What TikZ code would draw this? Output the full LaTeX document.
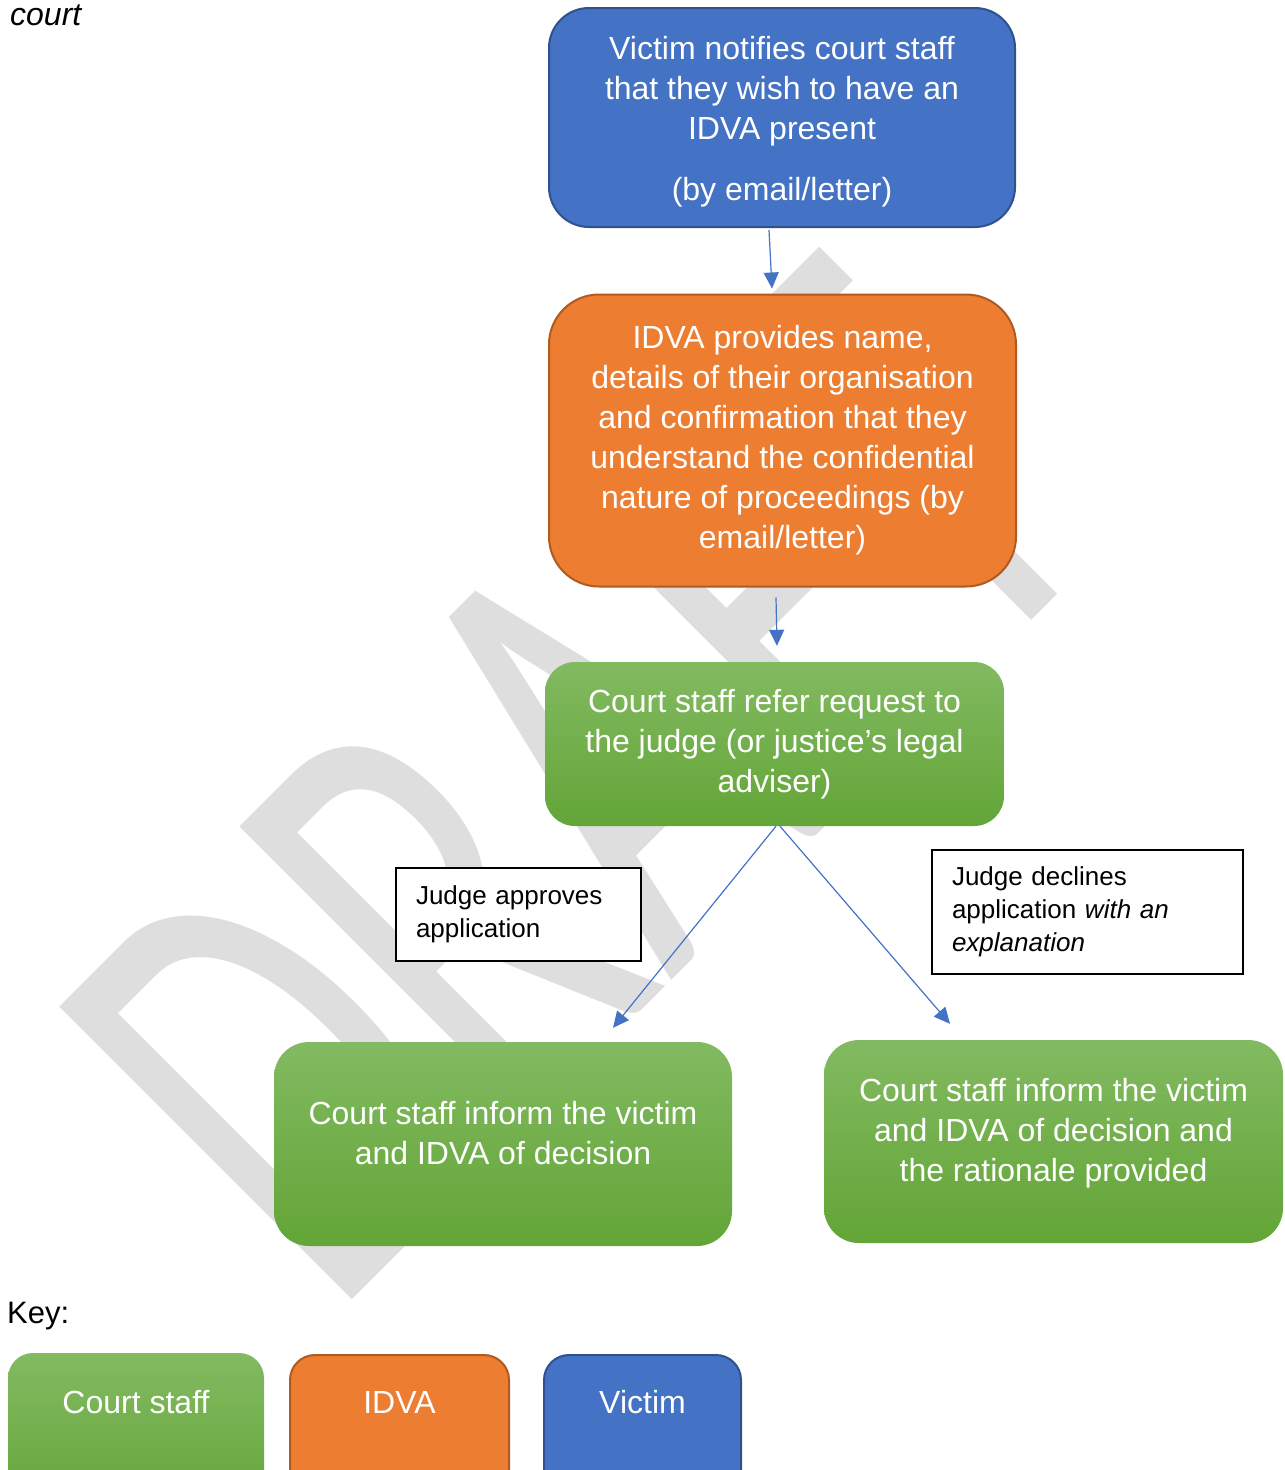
\documentclass[tikz,border=0pt]{standalone}
\usepackage{fontspec}
\setmainfont{Liberation Sans}
\newfontfamily\wmfont[FakeStretch=0.64]{Carlito}
\usetikzlibrary{arrows.meta}
\definecolor{vblue}{HTML}{4472C4}
\definecolor{vblueline}{HTML}{2F528F}
\definecolor{iorange}{HTML}{ED7D31}
\definecolor{iorangeline}{HTML}{AE5A21}
\definecolor{gtop}{HTML}{82BA61}
\definecolor{gbot}{HTML}{63A537}
\definecolor{wmgray}{HTML}{DEDEDE}
\tikzset{
  boxtext/.style={text=white, align=center, font=\fontsize{32}{40}\selectfont, inner sep=0pt},
  bluebox/.style={rectangle, fill=vblue, draw=vblueline, line width=2pt, inner sep=0pt},
  orangebox/.style={rectangle, fill=iorange, draw=iorangeline, line width=2pt, inner sep=0pt},
  greenbox/.style={rectangle, top color=gtop, bottom color=gbot, draw=none, inner sep=0pt},
  labelbox/.style={rectangle, draw=black, line width=1.5pt, fill=white, align=left,
    font=\fontsize{26}{33}\selectfont, inner xsep=20pt, inner ysep=0pt, anchor=center},
  arr/.style={draw=vblue, line width=1.2pt, -{Triangle[length=16pt,width=15pt]}},
}
\begin{document}
\begin{tikzpicture}[x=1pt,y=-1pt]
\clip (0,0) rectangle (1285,1470);
\fill[white] (0,0) rectangle (1285,1470);
% watermark
\node[anchor=base west, rotate=45, inner sep=0pt, text=wmgray,
  font=\wmfont\fontsize{645}{645}\selectfont] (wm) at (332,1320) {DRAFT};

% top-left fragment
\node[anchor=base west, inner sep=0pt, font=\fontsize{32}{38}\selectfont\itshape] (courtword) at (10,25) {court};

% flow boxes
\node[bluebox, rounded corners=40pt, minimum width=466pt, minimum height=219pt] (victim) at (782,117.5) {};
\node[boxtext] (victimtext) at (782,121.5)
  {Victim notifies court staff\\that they wish to have an\\IDVA present\\[21pt](by email/letter)};
\node[orangebox, rounded corners=50pt, minimum width=467pt, minimum height=292pt, boxtext] (idva) at (782.5,440.5)
  {IDVA provides name,\\details of their organisation\\and confirmation that they\\understand the confidential\\nature of proceedings (by\\email/letter)};
\node[greenbox, rounded corners=30pt, minimum width=459pt, minimum height=164pt, boxtext] (refer) at (774.5,744)
  {Court staff refer request to\\the judge (or justice’s legal\\adviser)};
\node[greenbox, rounded corners=35pt, minimum width=458pt, minimum height=204pt] (inform1) at (503,1144) {};
\node[boxtext] (inform1text) at (503,1133) {Court staff inform the victim\\and IDVA of decision};
\node[greenbox, rounded corners=35pt, minimum width=459pt, minimum height=203pt] (inform2) at (1053.5,1141.5) {};
\node[boxtext] (inform2text) at (1053.5,1133) {Court staff inform the victim\\and IDVA of decision and\\the rationale provided};

% decision labels
\node[labelbox, minimum width=245pt, minimum height=93pt, text width=205pt] (approve) at (518.5,914.5)
  {Judge approves\\application};
\node[labelbox, minimum width=311pt, minimum height=124pt, text width=271pt] (decline) at (1087.5,912)
  {Judge declines\\application \textit{with an}\\\textit{explanation}};

% connectors
\draw[arr] ([xshift=-13pt,yshift=-2pt]victim.south) -- ([xshift=-10.5pt,yshift=5pt]idva.north);
\draw[arr] ([xshift=-6.5pt,yshift=-10pt]idva.south) -- ([xshift=2.5pt,yshift=16pt]refer.north);
\draw[arr] ([xshift=1.5pt]refer.south) -- ([xshift=110pt,yshift=14pt]inform1.north);
\draw[arr] ([xshift=5.5pt]refer.south) -- ([xshift=-103.5pt,yshift=16pt]inform2.north);

% key
\node[anchor=base west, inner sep=0pt, font=\fontsize{31}{38}\selectfont] (keyword) at (7,1323) {Key:};
\node[greenbox, rounded corners=25pt, minimum width=256pt, minimum height=167pt] (keycs) at (136,1436.5) {};
\node[boxtext] (keycstext) at (136,1402) {Court staff};
\node[orangebox, rounded corners=25pt, minimum width=219pt, minimum height=165pt] (keyidva) at (399.5,1437.5) {};
\node[boxtext] (keyidvatext) at (399.5,1402) {IDVA};
\node[bluebox, rounded corners=25pt, minimum width=197pt, minimum height=165pt] (keyvic) at (642.5,1437.5) {};
\node[boxtext] (keyvictext) at (642.5,1402) {Victim};
\end{tikzpicture}
\end{document}
